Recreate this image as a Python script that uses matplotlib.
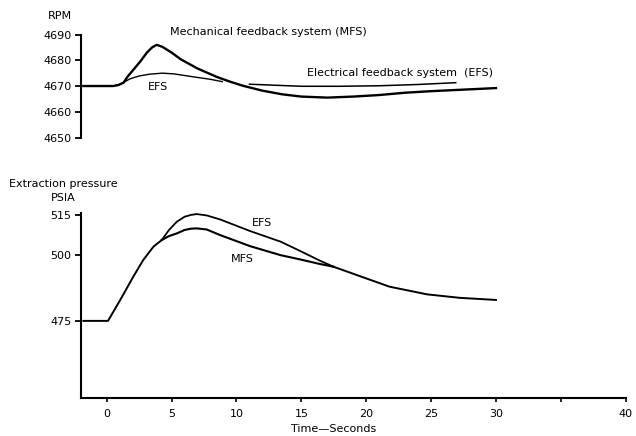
import numpy as np
import matplotlib
matplotlib.use("Agg")
import matplotlib.pyplot as plt

plt.rcParams['font.family'] = ['DejaVu Sans']
plt.rcParams['font.size'] = 8

# --- RPM panel ---
t_mfs_rpm = [-1.8, 0.5, 0.9, 1.3, 1.6, 2.0, 2.6, 3.1, 3.5, 3.85, 4.3, 5.0, 5.7, 7.0,
             8.5, 9.5, 10.5, 12, 13.5, 15, 17, 19, 21, 23, 25, 27.5, 30]
rpm_mfs = [4670, 4670, 4670.4, 4671.3, 4673.6, 4676.0, 4679.6, 4683.0, 4685.0, 4686.0,
           4685.2, 4683.0, 4680.4, 4676.8, 4673.5, 4671.7, 4670.1, 4668.2, 4666.8,
           4665.9, 4665.5, 4665.9, 4666.5, 4667.4, 4668.0, 4668.6, 4669.2]

t_efs_rpm_a = [-1.8, 0.5, 0.9, 1.3, 1.8, 2.5, 3.3, 4.3, 5.2, 6.5, 8.0, 8.9]
rpm_efs_a = [4670, 4670, 4670.4, 4671.4, 4672.8, 4673.9, 4674.6, 4675.0, 4674.7,
             4673.7, 4672.6, 4671.7]
t_efs_rpm_b = [11.0, 13, 15, 18, 21, 24, 26.9]
rpm_efs_b = [4670.7, 4670.3, 4669.9, 4669.9, 4670.1, 4670.6, 4671.3]

# --- Extraction pressure panel ---
t_rise = [-1.8, 0.1, 1.03, 2.05, 2.82, 3.6, 4.24]
p_rise = [475, 475, 482.8, 491.7, 498.0, 503.0, 505.5]

t_efs_p = [4.24, 4.8, 5.4, 6.0, 6.5, 6.94, 7.7, 8.73, 11.05, 13.4, 14.9, 16.4, 17.5]
p_efs = [505.5, 509.3, 512.4, 514.3, 515.0, 515.3, 514.8, 513.3, 508.9, 504.9,
         501.4, 497.8, 495.4]

t_mfs_p = [4.24, 4.8, 5.4, 6.0, 6.5, 6.94, 7.7, 8.73, 11.05, 13.4, 14.9, 16.4, 17.5]
p_mfs = [505.5, 507.0, 508.0, 509.3, 509.8, 509.9, 509.5, 507.4, 503.2, 499.8,
         498.2, 496.5, 495.4]

t_tail = [17.5, 19.5, 21.8, 24.7, 27.2, 30.0]
p_tail = [495.4, 491.9, 487.9, 485.0, 483.7, 482.9]

rpm_ticks = [4650, 4660, 4670, 4680, 4690]
p_ticks = [475, 500, 515]
time_ticks = [0, 5, 10, 15, 20, 25, 30, 35, 40]
time_labels = ['0', '5', '10', '15', '20', '25', '30', '', '40']

fig = plt.figure(figsize=(6.36, 4.36), dpi=100)

# top panel
ax1 = fig.add_axes([0.1274, 0.6846, 0.8564, 0.2362])
ax1.plot(t_mfs_rpm, rpm_mfs, color='black', lw=1.7, solid_joinstyle='round')
ax1.plot(t_efs_rpm_a, rpm_efs_a, color='black', lw=1.0, solid_joinstyle='round')
ax1.plot(t_efs_rpm_b, rpm_efs_b, color='black', lw=1.1)
ax1.set_xlim(-1.98, 40)
ax1.set_ylim(4650, 4690)
for s in ['top', 'right', 'bottom']:
    ax1.spines[s].set_visible(False)
ax1.spines['left'].set_linewidth(1.5)
ax1.set_yticks(rpm_ticks)
ax1.set_xticks([])
ax1.tick_params(axis='y', length=4, width=1.3, pad=3, labelsize=8)
ax1.text(4.9, 4690.9, 'Mechanical feedback system (MFS)', va='center', ha='left', clip_on=False)
ax1.text(3.95, 4669.6, 'EFS', va='center', ha='center')
ax1.text(15.4, 4674.9, 'Electrical feedback system  (EFS)', va='center', ha='left')

# bottom panel
ax2 = fig.add_axes([0.1274, 0.0878, 0.8564, 0.4236])
ax2.plot(t_rise, p_rise, color='black', lw=1.4, solid_joinstyle='round')
ax2.plot(t_efs_p, p_efs, color='black', lw=1.3, solid_joinstyle='round')
ax2.plot(t_mfs_p, p_mfs, color='black', lw=1.5, solid_joinstyle='round')
ax2.plot(t_tail, p_tail, color='black', lw=1.4, solid_joinstyle='round')
ax2.set_xlim(-1.98, 40)
ax2.set_ylim(446, 515.7)
for s in ['top', 'right']:
    ax2.spines[s].set_visible(False)
ax2.spines['left'].set_linewidth(1.5)
ax2.spines['bottom'].set_linewidth(1.5)
ax2.set_yticks(p_ticks)
ax2.set_xticks(time_ticks)
ax2.set_xticklabels(time_labels)
ax2.tick_params(axis='y', length=4, width=1.3, pad=3, labelsize=8)
ax2.tick_params(axis='x', length=3, width=1.2, pad=5, labelsize=8)
ax2.text(11.97, 512.0, 'EFS', va='center', ha='center')
ax2.text(10.43, 498.2, 'MFS', va='center', ha='center')

fig.text(0.0943, 0.964, 'RPM', ha='center', va='center')
fig.text(0.0998, 0.578, 'Extraction pressure', ha='center', va='center')
fig.text(0.099, 0.5452, 'PSIA', ha='center', va='center')
fig.text(0.525, 0.016, 'Time\u2014Seconds', ha='center', va='center')

fig.savefig('out.png', dpi=100)
